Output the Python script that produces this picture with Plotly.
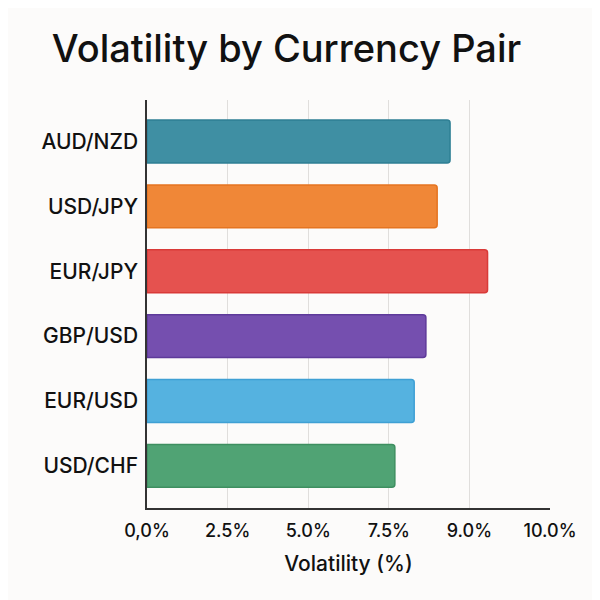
import plotly.graph_objects as go

pairs = ["USD/CHF", "EUR/USD", "GBP/USD", "EUR/JPY", "USD/JPY", "AUD/NZD"]
volatility = [6.15, 6.63, 6.92, 8.45, 7.2, 7.52]
fill_colors = ["#50A374", "#55B2E0", "#754FAF", "#E5524F", "#F08737", "#3F8FA3"]
line_colors = ["#3E8F60", "#3FA0D4", "#5E3A9A", "#D93A38", "#E57420", "#2E7F94"]
tick_vals = [0, 2, 4, 6, 8, 10]
tick_text = ["0,0%", "2.5%", "5.0%", "7.5%", "9.0%", "10.0%"]

fig = go.Figure(go.Bar(
    x=volatility, y=pairs, orientation="h",
    marker=dict(color=fill_colors, line=dict(color=line_colors, width=1.5), cornerradius=3),
    width=0.66,
))

fig.update_layout(
    width=600, height=600,
    paper_bgcolor="#FCFBFA", plot_bgcolor="#FCFBFA",
    margin=dict(l=139, r=58, t=92, b=100, autoexpand=False),
    title=dict(text="Volatility by Currency Pair", x=0.073, xanchor="left", y=0.910, yanchor="bottom",
               font=dict(family="Inter", size=38, color="#111111", weight=500)),
    font=dict(family="Inter", color="#111111"),
    showlegend=False,
    xaxis=dict(range=[0, 10], tickvals=tick_vals, ticktext=tick_text,
               tickfont=dict(size=18, color="#111111", weight=500),
               showgrid=True, gridcolor="#E0DEDC", gridwidth=1.3,
               showline=True, linecolor="#333333", linewidth=2,
               ticks="", ticklabelstandoff=5,
               title=dict(text="Volatility (%)", font=dict(size=21, color="#111111", weight=500), standoff=17),
               zeroline=False, fixedrange=True),
    yaxis=dict(range=[-0.65, 5.64], tickfont=dict(size=21, color="#111111", weight=500),
               showline=True, linecolor="#333333", linewidth=1.5,
               showgrid=False, ticks="", ticklabelstandoff=3, fixedrange=True),
)

fig.write_html("out.html")
